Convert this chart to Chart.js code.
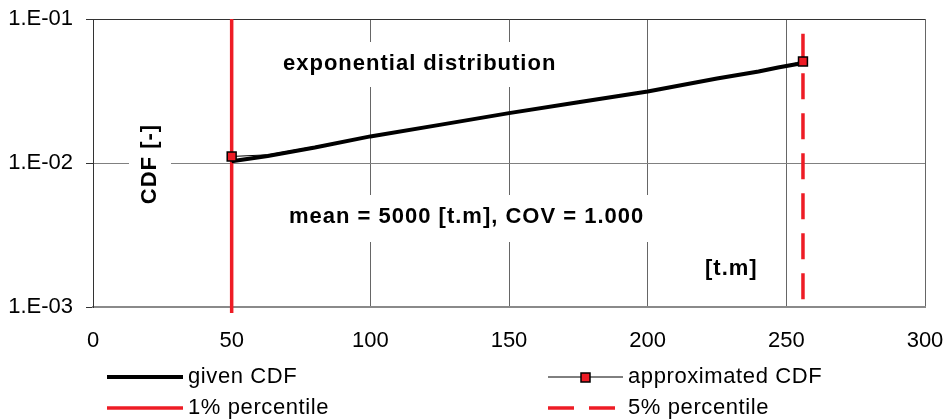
<!DOCTYPE html>
<html lang="en">
<head>
  <meta charset="UTF-8">
  <title>CDF – exponential distribution</title>
  <script src="https://cdn.jsdelivr.net/npm/chart.js"></script>
  <style>
    body {
      margin: 0;
      background: #fff;
    }
    #wrap {
      width: 950px;
      height: 420px;
      position: relative;
    }
  </style>
</head>
<body>
  <div id="wrap"><canvas id="cdf"></canvas></div>

  <script>
    const FONT = "'Liberation Sans', Arial, sans-serif";
    const RED = '#ee1c25';

    // given CDF (thick line)
    const givenX   = [50, 63, 80, 100, 125, 150, 175, 200, 225, 240, 247, 254, 256];
    const givenCdf = [0.0103, 0.0112, 0.0128, 0.0153, 0.0184, 0.0222, 0.0264, 0.0314, 0.0386, 0.0432, 0.0461, 0.0487, 0.0499];

    // approximated CDF (thin line, markers at both ends)
    const approxX   = [50, 63, 100, 150, 200, 240, 256];
    const approxCdf = [0.0111, 0.0114, 0.0152, 0.0222, 0.0313, 0.0431, 0.0507];

    // percentile markers
    const p1X   = [50, 50];
    const p1Cdf = [0.1, 0.00091];
    const p5X   = [256, 256];
    const p5Cdf = [0.00113, 0.079];

    // axes
    const xTicks      = [0, 50, 100, 150, 200, 250, 300];
    const yTickVals   = [0.001, 0.01, 0.1];
    const yTickLabels = ['1.E-03', '1.E-02', '1.E-01'];

    const pts = (xs, ys) => xs.map((x, i) => ({ x: x, y: ys[i] }));

    // text boxes drawn on the plot (white background hides the grid)
    function drawText(ctx, text, x, y, box) {
      if (box) {
        ctx.fillStyle = '#fff';
        ctx.fillRect(box[0], box[1], box[2], box[3]);
      }
      ctx.fillStyle = '#000';
      ctx.fillText(text, x, y);
    }

    const overlay = {
      id: 'overlay',
      beforeDatasetsDraw(chart) {
        const ctx = chart.ctx;
        ctx.save();
        ctx.font = 'bold 22px ' + FONT;
        ctx.letterSpacing = '1px';
        ctx.textBaseline = 'middle';
        ctx.textAlign = 'left';
        drawText(ctx, 'exponential distribution', 283, 64, [276, 42, 290, 45]);
        drawText(ctx, 'mean = 5000 [t.m], COV = 1.000', 289, 217, [280, 195, 372, 47]);
        drawText(ctx, '[t.m]', 705, 269, null);

        ctx.translate(150, 164);
        ctx.rotate(-Math.PI / 2);
        ctx.textAlign = 'center';
        drawText(ctx, 'CDF [-]', 0, 0, [-45, -21, 90, 42]);
        ctx.restore();
      },
      afterDraw(chart) {
        const ctx = chart.ctx;
        const ds = chart.data.datasets;
        ctx.save();
        ctx.font = '22px ' + FONT;
        ctx.letterSpacing = '0.6px';
        ctx.textBaseline = 'middle';
        ctx.fillStyle = '#000';

        // given CDF
        ctx.strokeStyle = '#000';
        ctx.lineWidth = 4;
        ctx.beginPath(); ctx.moveTo(107, 377); ctx.lineTo(183, 377); ctx.stroke();
        ctx.fillText(ds[0].label, 188, 377);

        // 1% percentile
        ctx.strokeStyle = RED;
        ctx.lineWidth = 3.5;
        ctx.beginPath(); ctx.moveTo(107, 408); ctx.lineTo(183, 408); ctx.stroke();
        ctx.fillText(ds[2].label, 188, 408);

        // approximated CDF
        ctx.strokeStyle = '#000';
        ctx.lineWidth = 1;
        ctx.beginPath(); ctx.moveTo(548, 377); ctx.lineTo(623, 377); ctx.stroke();
        ctx.fillStyle = RED;
        ctx.fillRect(581, 373, 9, 9);
        ctx.lineWidth = 1.5;
        ctx.strokeRect(581, 373, 9, 9);
        ctx.fillStyle = '#000';
        ctx.fillText(ds[1].label, 628, 377);

        // 5% percentile
        ctx.strokeStyle = RED;
        ctx.lineWidth = 3.5;
        ctx.setLineDash([26, 15]);
        ctx.beginPath(); ctx.moveTo(548, 408); ctx.lineTo(615, 408); ctx.stroke();
        ctx.setLineDash([]);
        ctx.fillText(ds[3].label, 628, 408);
        ctx.restore();
      }
    };

    new Chart(document.getElementById('cdf'), {
      type: 'line',
      data: {
        datasets: [
          {
            label: 'given CDF',
            data: pts(givenX, givenCdf),
            borderColor: '#000',
            borderWidth: 4,
            pointRadius: 0,
            tension: 0,
            order: 2
          },
          {
            label: 'approximated CDF',
            data: pts(approxX, approxCdf),
            borderColor: '#000',
            borderWidth: 1,
            pointStyle: 'rect',
            pointRadius: ctx => (ctx.dataIndex === 0 || ctx.dataIndex === approxX.length - 1) ? 6.3 : 0,
            pointBackgroundColor: RED,
            pointBorderColor: '#000',
            pointBorderWidth: 1.5,
            tension: 0,
            order: 1
          },
          {
            label: '1% percentile',
            data: pts(p1X, p1Cdf),
            borderColor: RED,
            borderWidth: 3.5,
            pointRadius: 0,
            clip: false,
            order: 3
          },
          {
            label: '5% percentile',
            data: pts(p5X, p5Cdf),
            borderColor: RED,
            borderWidth: 3.5,
            borderDash: [26, 14],
            pointRadius: 0,
            order: 3
          }
        ]
      },
      options: {
        responsive: true,
        maintainAspectRatio: false,
        animation: false,
        events: [],
        layout: { padding: { left: 0, right: 25, top: 19, bottom: 0 } },
        plugins: {
          legend: { display: false },
          tooltip: { enabled: false }
        },
        scales: {
          x: {
            type: 'linear',
            min: 0,
            max: 300,
            afterBuildTicks: s => { s.ticks = xTicks.map(v => ({ value: v })); },
            afterFit: s => {
              s.height = 113;
              s.paddingLeft = 0;
              s.paddingRight = 0;
            },
            grid: { color: '#666', drawTicks: false },
            border: { color: '#8a8a8a', width: 2 },
            ticks: {
              padding: 21,
              color: '#000',
              font: { family: FONT, size: 22 }
            }
          },
          y: {
            type: 'logarithmic',
            min: 0.001,
            max: 0.1,
            afterBuildTicks: s => { s.ticks = yTickVals.map(v => ({ value: v })); },
            afterFit: s => {
              s.width = 93;
              s.paddingTop = 0;
              s.paddingBottom = 0;
            },
            grid: {
              color: c => (c.tick && c.tick.value === 0.1) ? '#333' : '#808080',
              tickLength: 7,
              tickColor: '#333'
            },
            border: { color: '#333', width: 1 },
            ticks: {
              padding: 13,
              color: '#000',
              font: { family: FONT, size: 22 },
              callback: v => yTickLabels[yTickVals.indexOf(v)]
            }
          }
        }
      },
      plugins: [overlay]
    });
  </script>
</body>
</html>
